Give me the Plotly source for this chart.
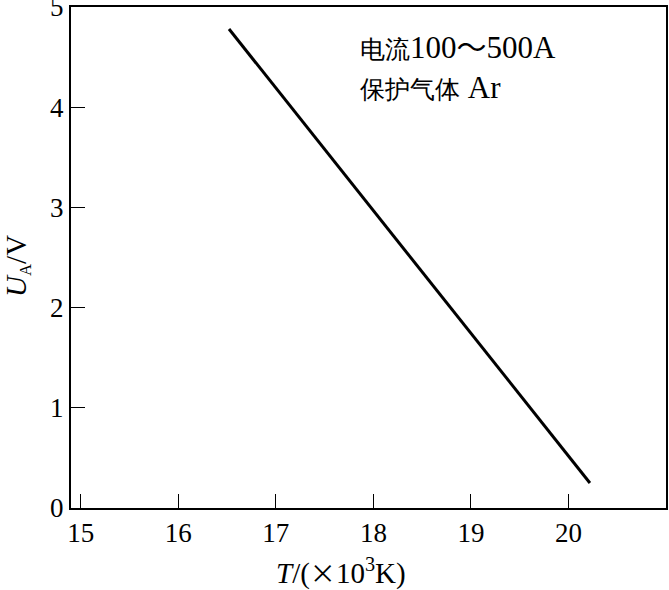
import plotly.graph_objects as go

T_vals = [16.52, 20.22]
U_vals = [4.78, 0.25]
x_ticks = [15, 16, 17, 18, 19, 20]
y_ticks = [0, 1, 2, 3, 4, 5]
cjk = "font-family:Noto Sans CJK SC"
note_lines = [f"<span style='font-size:25px'>电流</span>100<span style='{cjk};font-size:30px'>～</span>500A",
              "<span style='font-size:25px'>保护气体</span> Ar"]
x_title = f"<i>T</i>/(<span style='{cjk};font-size:26px'>×</span>10<sup>3</sup>K)"
y_title = "<i>U</i><span style='font-size:24px'><sub>A</sub></span>/V"

font_fam = "Liberation Serif"
tick_font = dict(family="Liberation Serif", size=27, color="black")

fig = go.Figure()
fig.add_trace(go.Scatter(x=T_vals, y=U_vals, mode="lines",
                         line=dict(color="black", width=3), showlegend=False))

fig.update_layout(
    width=669, height=590,
    margin=dict(l=71, r=3, t=7, b=82),
    paper_bgcolor="white", plot_bgcolor="white",
    font=dict(family=font_fam, color="black", size=27),
    annotations=[
        dict(x=0.483, y=0.972, xref="paper", yref="paper",
             xanchor="left", yanchor="top", align="left", showarrow=False,
             text="<br>".join(note_lines),
             font=dict(size=31, family=font_fam)),
        dict(x=(341 - 71) / 595, y=-(571 - 508) / 501, xref="paper", yref="paper",
             xanchor="center", yanchor="middle", showarrow=False,
             text=x_title, font=dict(size=29, family=font_fam)),
        dict(x=-(71 - 17) / 595, y=(508 - 266) / 501, xref="paper", yref="paper",
             xanchor="center", yanchor="middle", showarrow=False, textangle=-90,
             text=y_title, font=dict(size=29, family=font_fam)),
    ],
)
fig.update_xaxes(range=[14.9, 21.0], tickmode="array", tickvals=x_ticks,
                 ticktext=[str(v) for v in x_ticks],
                 ticks="inside", ticklen=14, tickwidth=1, tickcolor="black",
                 showgrid=False, zeroline=False, showline=True, linecolor="black",
                 linewidth=2, mirror=True, automargin=False, tickfont=tick_font,
                 ticklabeloverflow="allow")
fig.update_yaxes(range=[0, 5], tickmode="array", tickvals=y_ticks,
                 ticktext=[str(v) for v in y_ticks],
                 ticks="inside", ticklen=14, tickwidth=1, tickcolor="black",
                 showgrid=False, zeroline=False, showline=True, linecolor="black",
                 linewidth=2, mirror=True, automargin=False, tickfont=tick_font,
                 ticklabeloverflow="allow")

fig.write_html("out.html", config={"displayModeBar": False},
               post_script="document.body.style.margin='0';")
